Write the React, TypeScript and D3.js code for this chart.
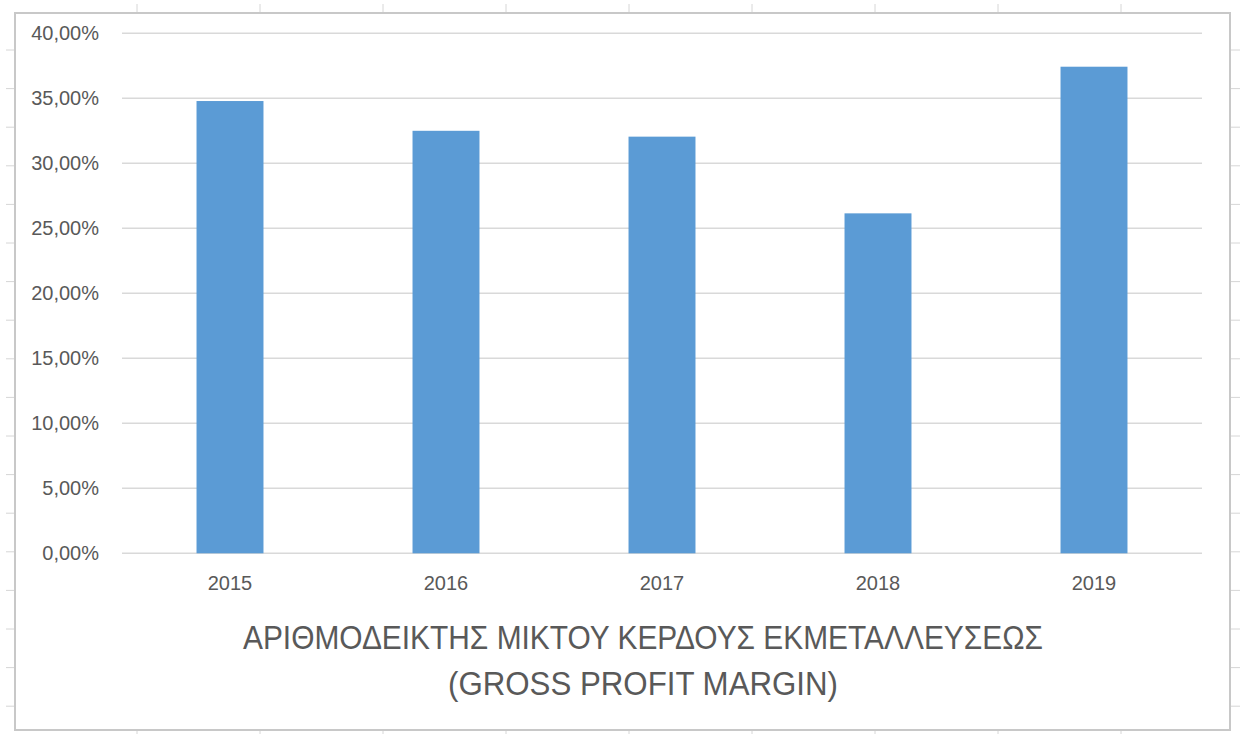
import React from "react";
import * as d3 from "d3";

const years = ["2015", "2016", "2017", "2018", "2019"];
const margins = [0.3479, 0.325, 0.3205, 0.2615, 0.3743];
const yTicks = [0, 0.05, 0.1, 0.15, 0.2, 0.25, 0.3, 0.35, 0.4];
const titleLines = [
  "ΑΡΙΘΜΟΔΕΙΚΤΗΣ ΜΙΚΤΟΥ ΚΕΡΔΟΥΣ ΕΚΜΕΤΑΛΛΕΥΣΕΩΣ",
  "(GROSS PROFIT MARGIN)",
];

const W = 1240;
const H = 734;
const plot = { left: 122, right: 1202, top: 33.3, bottom: 553.3 };
const textColor = "#595959";
const font = "'Liberation Sans', Arial, sans-serif";

const fmt = (v: number) => (v * 100).toFixed(2).replace(".", ",") + "%";

export default function App() {
  const x = d3
    .scaleBand<string>()
    .domain(years)
    .range([plot.left, plot.right])
    .paddingInner(0.69)
    .paddingOuter(0.345);
  const y = d3.scaleLinear().domain([0, 0.4]).range([plot.bottom, plot.top]);

  const rowTicks = d3.range(50, 731, 38.6);
  const colTicks = d3.range(137, 1230, 123);

  return (
    <svg
      width={W}
      height={H}
      style={{ position: "absolute", left: 0, top: 0, background: "#fff" }}
    >
      <rect x={0} y={0} width={W} height={H} fill="#fff" />
      {/* spreadsheet grid marks peeking around the chart */}
      {rowTicks.map((t, i) => (
        <g key={"r" + i}>
          <line x1={6} x2={15} y1={t} y2={t} stroke="#d6d6d6" strokeWidth={1} />
          <line x1={1231} x2={1240} y1={t} y2={t} stroke="#d6d6d6" strokeWidth={1} />
        </g>
      ))}
      {colTicks.map((t, i) => (
        <g key={"c" + i}>
          <line x1={t} x2={t} y1={4} y2={13} stroke="#d6d6d6" strokeWidth={1} />
          <line x1={t} x2={t} y1={730} y2={734} stroke="#d6d6d6" strokeWidth={1} />
        </g>
      ))}
      {/* chart border */}
      <rect
        x={15}
        y={13}
        width={1215}
        height={717}
        fill="#fff"
        stroke="#c8c8c8"
        strokeWidth={2}
      />
      {/* gridlines */}
      {yTicks.map((t) => (
        <line
          key={t}
          x1={plot.left}
          x2={plot.right}
          y1={y(t)}
          y2={y(t)}
          stroke="#d9d9d9"
          strokeWidth={1.5}
        />
      ))}
      {/* y tick labels */}
      {yTicks.map((t) => (
        <text
          key={"l" + t}
          x={99}
          y={y(t)}
          dy="0.35em"
          textAnchor="end"
          fontFamily={font}
          fontSize={20}
          fill={textColor}
        >
          {fmt(t)}
        </text>
      ))}
      {/* bars */}
      {years.map((yr, i) => (
        <rect
          key={yr}
          x={x(yr)}
          y={y(margins[i])}
          width={x.bandwidth()}
          height={y(0) - y(margins[i])}
          fill="#5b9bd5"
        />
      ))}
      {/* x labels */}
      {years.map((yr) => (
        <text
          key={"x" + yr}
          x={(x(yr) as number) + x.bandwidth() / 2}
          y={590}
          textAnchor="middle"
          fontFamily={font}
          fontSize={20}
          fill={textColor}
        >
          {yr}
        </text>
      ))}
      {/* title */}
      <text
        x={643}
        y={649}
        textAnchor="middle"
        fontFamily={font}
        fontSize={33}
        fill={textColor}
        textLength={800}
        lengthAdjust="spacingAndGlyphs"
      >
        {titleLines[0]}
      </text>
      <text
        x={643}
        y={695}
        textAnchor="middle"
        fontFamily={font}
        fontSize={33}
        fill={textColor}
        textLength={390}
        lengthAdjust="spacingAndGlyphs"
      >
        {titleLines[1]}
      </text>
    </svg>
  );
}
